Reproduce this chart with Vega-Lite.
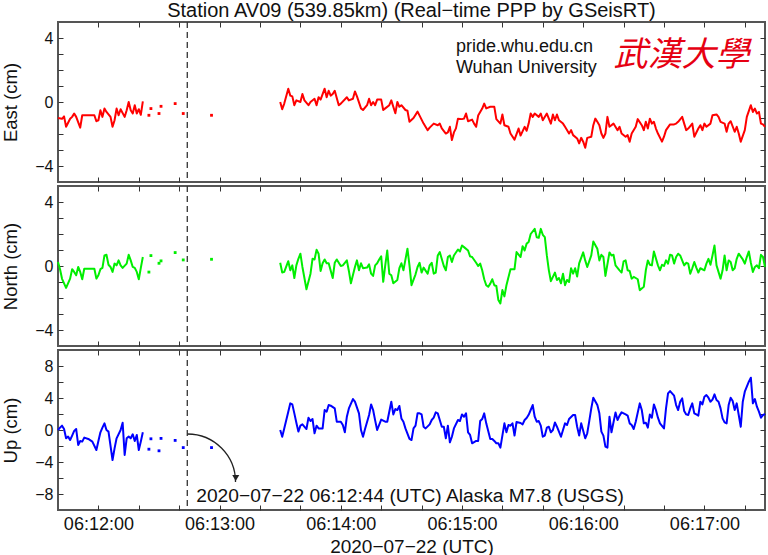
{
  "$schema": "https://vega.github.io/schema/vega-lite/v6.json",
  "padding": {"left": 0, "top": 0, "right": 2, "bottom": 0},
  "spacing": 0,
  "vconcat": [
    {
      "width": 707,
      "height": 160,
      "title": {"text": "Station AV09 (539.85km) (Real−time PPP by GSeisRT)", "anchor": "middle", "fontSize": 20, "fontWeight": "normal", "font": "Liberation Sans", "color": "#111", "offset": 0},
      "data": {"values": [
        {"t":"2020-07-22T06:11:40Z","v":-1.0,"seg":"pre"},{"t":"2020-07-22T06:11:42Z","v":-1.05,"seg":"pre"},{"t":"2020-07-22T06:11:43Z","v":-0.9,"seg":"pre"},{"t":"2020-07-22T06:11:44Z","v":-1.55,"seg":"pre"},
        {"t":"2020-07-22T06:11:46Z","v":-1.05,"seg":"pre"},{"t":"2020-07-22T06:11:47Z","v":-0.93,"seg":"pre"},{"t":"2020-07-22T06:11:48Z","v":-0.72,"seg":"pre"},{"t":"2020-07-22T06:11:49Z","v":-0.93,"seg":"pre"},
        {"t":"2020-07-22T06:11:51Z","v":-1.6,"seg":"pre"},{"t":"2020-07-22T06:11:52Z","v":-0.83,"seg":"pre"},{"t":"2020-07-22T06:11:58Z","v":-0.83,"seg":"pre"},{"t":"2020-07-22T06:11:59Z","v":-1.2,"seg":"pre"},
        {"t":"2020-07-22T06:12:00Z","v":-1.14,"seg":"pre"},{"t":"2020-07-22T06:12:01Z","v":-0.52,"seg":"pre"},{"t":"2020-07-22T06:12:02Z","v":-0.93,"seg":"pre"},{"t":"2020-07-22T06:12:03Z","v":-0.41,"seg":"pre"},
        {"t":"2020-07-22T06:12:04Z","v":-0.62,"seg":"pre"},{"t":"2020-07-22T06:12:06Z","v":-0.93,"seg":"pre"},{"t":"2020-07-22T06:12:07Z","v":-1.55,"seg":"pre"},{"t":"2020-07-22T06:12:08Z","v":-1.14,"seg":"pre"},
        {"t":"2020-07-22T06:12:09Z","v":-0.41,"seg":"pre"},{"t":"2020-07-22T06:12:10Z","v":-0.83,"seg":"pre"},{"t":"2020-07-22T06:12:11Z","v":-0.45,"seg":"pre"},{"t":"2020-07-22T06:12:13Z","v":-0.93,"seg":"pre"},
        {"t":"2020-07-22T06:12:14Z","v":-0.52,"seg":"pre"},{"t":"2020-07-22T06:12:15Z","v":0.0,"seg":"pre"},{"t":"2020-07-22T06:12:16Z","v":-0.52,"seg":"pre"},{"t":"2020-07-22T06:12:17Z","v":-0.72,"seg":"pre"},
        {"t":"2020-07-22T06:12:18Z","v":-0.2,"seg":"pre"},{"t":"2020-07-22T06:12:19Z","v":-0.72,"seg":"pre"},{"t":"2020-07-22T06:12:20Z","v":-0.45,"seg":"pre"},{"t":"2020-07-22T06:12:21Z","v":-0.8,"seg":"pre"},
        {"t":"2020-07-22T06:12:22Z","v":0.04,"seg":"pre"},
        {"t":"2020-07-22T06:12:25Z","v":-0.83,"seg":"lone"},{"t":"2020-07-22T06:12:26Z","v":-0.41,"seg":"lone"},{"t":"2020-07-22T06:12:30Z","v":-0.72,"seg":"lone"},{"t":"2020-07-22T06:12:31Z","v":-0.27,"seg":"lone"},
        {"t":"2020-07-22T06:12:38Z","v":-0.1,"seg":"lone"},{"t":"2020-07-22T06:12:42Z","v":-0.72,"seg":"lone"},{"t":"2020-07-22T06:12:56Z","v":-0.83,"seg":"lone"},
        {"t":"2020-07-22T06:13:30Z","v":0.0,"seg":"post"},{"t":"2020-07-22T06:13:31Z","v":-0.45,"seg":"post"},{"t":"2020-07-22T06:13:32Z","v":-0.1,"seg":"post"},{"t":"2020-07-22T06:13:34Z","v":0.83,"seg":"post"},
        {"t":"2020-07-22T06:13:35Z","v":0.4,"seg":"post"},{"t":"2020-07-22T06:13:36Z","v":0.35,"seg":"post"},{"t":"2020-07-22T06:13:37Z","v":-0.2,"seg":"post"},{"t":"2020-07-22T06:13:38Z","v":0.1,"seg":"post"},
        {"t":"2020-07-22T06:13:40Z","v":0.0,"seg":"post"},{"t":"2020-07-22T06:13:41Z","v":0.5,"seg":"post"},{"t":"2020-07-22T06:13:42Z","v":0.1,"seg":"post"},{"t":"2020-07-22T06:13:44Z","v":-0.2,"seg":"post"},
        {"t":"2020-07-22T06:13:45Z","v":0.0,"seg":"post"},{"t":"2020-07-22T06:13:47Z","v":0.2,"seg":"post"},{"t":"2020-07-22T06:13:48Z","v":-0.2,"seg":"post"},{"t":"2020-07-22T06:13:49Z","v":0.3,"seg":"post"},
        {"t":"2020-07-22T06:13:50Z","v":0.15,"seg":"post"},{"t":"2020-07-22T06:13:52Z","v":0.83,"seg":"post"},{"t":"2020-07-22T06:13:53Z","v":0.3,"seg":"post"},{"t":"2020-07-22T06:13:54Z","v":0.7,"seg":"post"},
        {"t":"2020-07-22T06:13:55Z","v":0.4,"seg":"post"},{"t":"2020-07-22T06:13:56Z","v":0.5,"seg":"post"},{"t":"2020-07-22T06:13:57Z","v":0.7,"seg":"post"},{"t":"2020-07-22T06:13:59Z","v":-0.2,"seg":"post"},
        {"t":"2020-07-22T06:14:00Z","v":-0.1,"seg":"post"},{"t":"2020-07-22T06:14:03Z","v":0.3,"seg":"post"},{"t":"2020-07-22T06:14:04Z","v":0.1,"seg":"post"},{"t":"2020-07-22T06:14:06Z","v":0.2,"seg":"post"},
        {"t":"2020-07-22T06:14:07Z","v":0.66,"seg":"post"},{"t":"2020-07-22T06:14:08Z","v":0.35,"seg":"post"},{"t":"2020-07-22T06:14:10Z","v":-0.4,"seg":"post"},{"t":"2020-07-22T06:14:11Z","v":-0.5,"seg":"post"},
        {"t":"2020-07-22T06:14:13Z","v":-0.2,"seg":"post"},{"t":"2020-07-22T06:14:14Z","v":0.2,"seg":"post"},{"t":"2020-07-22T06:14:15Z","v":-0.2,"seg":"post"},{"t":"2020-07-22T06:14:16Z","v":0.0,"seg":"post"},
        {"t":"2020-07-22T06:14:17Z","v":-0.2,"seg":"post"},{"t":"2020-07-22T06:14:18Z","v":0.15,"seg":"post"},{"t":"2020-07-22T06:14:20Z","v":0.15,"seg":"post"},{"t":"2020-07-22T06:14:21Z","v":-0.5,"seg":"post"},
        {"t":"2020-07-22T06:14:22Z","v":-0.4,"seg":"post"},{"t":"2020-07-22T06:14:24Z","v":-0.2,"seg":"post"},{"t":"2020-07-22T06:14:25Z","v":0.1,"seg":"post"},{"t":"2020-07-22T06:14:27Z","v":-0.7,"seg":"post"},
        {"t":"2020-07-22T06:14:28Z","v":0.0,"seg":"post"},{"t":"2020-07-22T06:14:29Z","v":-0.3,"seg":"post"},{"t":"2020-07-22T06:14:30Z","v":-0.2,"seg":"post"},{"t":"2020-07-22T06:14:32Z","v":-0.5,"seg":"post"},
        {"t":"2020-07-22T06:14:33Z","v":-0.55,"seg":"post"},{"t":"2020-07-22T06:14:34Z","v":-1.24,"seg":"post"},{"t":"2020-07-22T06:14:36Z","v":-1.0,"seg":"post"},{"t":"2020-07-22T06:14:38Z","v":-0.6,"seg":"post"},
        {"t":"2020-07-22T06:14:39Z","v":-0.85,"seg":"post"},{"t":"2020-07-22T06:14:41Z","v":-1.35,"seg":"post"},{"t":"2020-07-22T06:14:43Z","v":-1.76,"seg":"post"},{"t":"2020-07-22T06:14:44Z","v":-1.6,"seg":"post"},
        {"t":"2020-07-22T06:14:46Z","v":-1.35,"seg":"post"},{"t":"2020-07-22T06:14:48Z","v":-1.45,"seg":"post"},{"t":"2020-07-22T06:14:49Z","v":-1.35,"seg":"post"},{"t":"2020-07-22T06:14:50Z","v":-1.65,"seg":"post"},
        {"t":"2020-07-22T06:14:52Z","v":-1.97,"seg":"post"},{"t":"2020-07-22T06:14:53Z","v":-1.9,"seg":"post"},{"t":"2020-07-22T06:14:54Z","v":-1.55,"seg":"post"},{"t":"2020-07-22T06:14:55Z","v":-2.38,"seg":"post"},
        {"t":"2020-07-22T06:14:56Z","v":-1.9,"seg":"post"},{"t":"2020-07-22T06:14:57Z","v":-1.65,"seg":"post"},{"t":"2020-07-22T06:14:58Z","v":-1.04,"seg":"post"},{"t":"2020-07-22T06:15:00Z","v":-1.07,"seg":"post"},
        {"t":"2020-07-22T06:15:01Z","v":-1.04,"seg":"post"},{"t":"2020-07-22T06:15:02Z","v":-0.72,"seg":"post"},{"t":"2020-07-22T06:15:03Z","v":-1.2,"seg":"post"},{"t":"2020-07-22T06:15:05Z","v":-1.1,"seg":"post"},
        {"t":"2020-07-22T06:15:06Z","v":-1.35,"seg":"post"},{"t":"2020-07-22T06:15:07Z","v":-1.55,"seg":"post"},{"t":"2020-07-22T06:15:08Z","v":-0.85,"seg":"post"},{"t":"2020-07-22T06:15:10Z","v":-0.41,"seg":"post"},
        {"t":"2020-07-22T06:15:11Z","v":-0.1,"seg":"post"},{"t":"2020-07-22T06:15:12Z","v":-0.4,"seg":"post"},{"t":"2020-07-22T06:15:14Z","v":-0.3,"seg":"post"},{"t":"2020-07-22T06:15:16Z","v":-0.3,"seg":"post"},
        {"t":"2020-07-22T06:15:17Z","v":-1.07,"seg":"post"},{"t":"2020-07-22T06:15:19Z","v":-1.35,"seg":"post"},{"t":"2020-07-22T06:15:20Z","v":-0.78,"seg":"post"},{"t":"2020-07-22T06:15:21Z","v":-1.45,"seg":"post"},
        {"t":"2020-07-22T06:15:23Z","v":-1.55,"seg":"post"},{"t":"2020-07-22T06:15:24Z","v":-1.97,"seg":"post"},{"t":"2020-07-22T06:15:26Z","v":-2.35,"seg":"post"},{"t":"2020-07-22T06:15:28Z","v":-1.66,"seg":"post"},
        {"t":"2020-07-22T06:15:29Z","v":-2.1,"seg":"post"},{"t":"2020-07-22T06:15:31Z","v":-1.55,"seg":"post"},{"t":"2020-07-22T06:15:32Z","v":-1.8,"seg":"post"},{"t":"2020-07-22T06:15:33Z","v":-1.35,"seg":"post"},
        {"t":"2020-07-22T06:15:34Z","v":-0.72,"seg":"post"},{"t":"2020-07-22T06:15:35Z","v":-0.93,"seg":"post"},{"t":"2020-07-22T06:15:36Z","v":-0.72,"seg":"post"},{"t":"2020-07-22T06:15:38Z","v":-0.93,"seg":"post"},
        {"t":"2020-07-22T06:15:39Z","v":-0.72,"seg":"post"},{"t":"2020-07-22T06:15:40Z","v":-1.14,"seg":"post"},{"t":"2020-07-22T06:15:42Z","v":-0.72,"seg":"post"},{"t":"2020-07-22T06:15:43Z","v":-1.04,"seg":"post"},
        {"t":"2020-07-22T06:15:44Z","v":-1.35,"seg":"post"},{"t":"2020-07-22T06:15:45Z","v":-0.78,"seg":"post"},{"t":"2020-07-22T06:15:46Z","v":-1.14,"seg":"post"},{"t":"2020-07-22T06:15:47Z","v":-0.78,"seg":"post"},
        {"t":"2020-07-22T06:15:48Z","v":-1.14,"seg":"post"},{"t":"2020-07-22T06:15:50Z","v":-1.35,"seg":"post"},{"t":"2020-07-22T06:15:51Z","v":-1.55,"seg":"post"},{"t":"2020-07-22T06:15:53Z","v":-1.97,"seg":"post"},
        {"t":"2020-07-22T06:15:54Z","v":-1.76,"seg":"post"},{"t":"2020-07-22T06:15:55Z","v":-2.07,"seg":"post"},{"t":"2020-07-22T06:15:57Z","v":-2.28,"seg":"post"},{"t":"2020-07-22T06:15:58Z","v":-2.59,"seg":"post"},
        {"t":"2020-07-22T06:15:59Z","v":-2.24,"seg":"post"},{"t":"2020-07-22T06:16:00Z","v":-2.48,"seg":"post"},{"t":"2020-07-22T06:16:01Z","v":-2.86,"seg":"post"},{"t":"2020-07-22T06:16:02Z","v":-2.24,"seg":"post"},
        {"t":"2020-07-22T06:16:04Z","v":-2.17,"seg":"post"},{"t":"2020-07-22T06:16:05Z","v":-1.45,"seg":"post"},{"t":"2020-07-22T06:16:06Z","v":-1.04,"seg":"post"},{"t":"2020-07-22T06:16:07Z","v":-1.24,"seg":"post"},
        {"t":"2020-07-22T06:16:08Z","v":-1.45,"seg":"post"},{"t":"2020-07-22T06:16:09Z","v":-1.97,"seg":"post"},{"t":"2020-07-22T06:16:10Z","v":-2.24,"seg":"post"},{"t":"2020-07-22T06:16:11Z","v":-1.97,"seg":"post"},
        {"t":"2020-07-22T06:16:12Z","v":-0.93,"seg":"post"},{"t":"2020-07-22T06:16:13Z","v":-1.55,"seg":"post"},{"t":"2020-07-22T06:16:15Z","v":-1.35,"seg":"post"},{"t":"2020-07-22T06:16:17Z","v":-1.76,"seg":"post"},
        {"t":"2020-07-22T06:16:18Z","v":-1.55,"seg":"post"},{"t":"2020-07-22T06:16:19Z","v":-1.97,"seg":"post"},{"t":"2020-07-22T06:16:21Z","v":-2.17,"seg":"post"},{"t":"2020-07-22T06:16:22Z","v":-2.07,"seg":"post"},
        {"t":"2020-07-22T06:16:23Z","v":-2.48,"seg":"post"},{"t":"2020-07-22T06:16:24Z","v":-1.97,"seg":"post"},{"t":"2020-07-22T06:16:26Z","v":-1.55,"seg":"post"},{"t":"2020-07-22T06:16:27Z","v":-1.07,"seg":"post"},
        {"t":"2020-07-22T06:16:29Z","v":-1.45,"seg":"post"},{"t":"2020-07-22T06:16:30Z","v":-1.76,"seg":"post"},{"t":"2020-07-22T06:16:31Z","v":-1.24,"seg":"post"},{"t":"2020-07-22T06:16:32Z","v":-1.66,"seg":"post"},
        {"t":"2020-07-22T06:16:33Z","v":-1.04,"seg":"post"},{"t":"2020-07-22T06:16:34Z","v":-1.35,"seg":"post"},{"t":"2020-07-22T06:16:35Z","v":-1.24,"seg":"post"},{"t":"2020-07-22T06:16:36Z","v":-1.66,"seg":"post"},
        {"t":"2020-07-22T06:16:37Z","v":-1.97,"seg":"post"},{"t":"2020-07-22T06:16:39Z","v":-2.48,"seg":"post"},{"t":"2020-07-22T06:16:40Z","v":-2.17,"seg":"post"},{"t":"2020-07-22T06:16:41Z","v":-1.76,"seg":"post"},
        {"t":"2020-07-22T06:16:43Z","v":-1.4,"seg":"post"},{"t":"2020-07-22T06:16:45Z","v":-1.4,"seg":"post"},{"t":"2020-07-22T06:16:46Z","v":-1.35,"seg":"post"},{"t":"2020-07-22T06:16:47Z","v":-1.24,"seg":"post"},
        {"t":"2020-07-22T06:16:49Z","v":-0.93,"seg":"post"},{"t":"2020-07-22T06:16:50Z","v":-1.35,"seg":"post"},{"t":"2020-07-22T06:16:51Z","v":-1.76,"seg":"post"},{"t":"2020-07-22T06:16:52Z","v":-1.66,"seg":"post"},
        {"t":"2020-07-22T06:16:54Z","v":-1.35,"seg":"post"},{"t":"2020-07-22T06:16:55Z","v":-2.17,"seg":"post"},{"t":"2020-07-22T06:16:57Z","v":-1.66,"seg":"post"},{"t":"2020-07-22T06:16:58Z","v":-1.45,"seg":"post"},
        {"t":"2020-07-22T06:16:59Z","v":-1.76,"seg":"post"},{"t":"2020-07-22T06:17:00Z","v":-1.35,"seg":"post"},{"t":"2020-07-22T06:17:01Z","v":-1.55,"seg":"post"},{"t":"2020-07-22T06:17:03Z","v":-1.35,"seg":"post"},
        {"t":"2020-07-22T06:17:04Z","v":-0.83,"seg":"post"},{"t":"2020-07-22T06:17:06Z","v":-0.78,"seg":"post"},{"t":"2020-07-22T06:17:07Z","v":-0.93,"seg":"post"},{"t":"2020-07-22T06:17:08Z","v":-1.24,"seg":"post"},
        {"t":"2020-07-22T06:17:10Z","v":-1.35,"seg":"post"},{"t":"2020-07-22T06:17:11Z","v":-1.86,"seg":"post"},{"t":"2020-07-22T06:17:12Z","v":-1.35,"seg":"post"},{"t":"2020-07-22T06:17:13Z","v":-1.2,"seg":"post"},
        {"t":"2020-07-22T06:17:15Z","v":-1.86,"seg":"post"},{"t":"2020-07-22T06:17:16Z","v":-1.55,"seg":"post"},{"t":"2020-07-22T06:17:17Z","v":-1.97,"seg":"post"},{"t":"2020-07-22T06:17:18Z","v":-2.48,"seg":"post"},
        {"t":"2020-07-22T06:17:20Z","v":-1.76,"seg":"post"},{"t":"2020-07-22T06:17:21Z","v":-0.93,"seg":"post"},{"t":"2020-07-22T06:17:23Z","v":-0.2,"seg":"post"},{"t":"2020-07-22T06:17:24Z","v":-0.62,"seg":"post"},
        {"t":"2020-07-22T06:17:25Z","v":-0.41,"seg":"post"},{"t":"2020-07-22T06:17:26Z","v":-0.72,"seg":"post"},{"t":"2020-07-22T06:17:27Z","v":-0.62,"seg":"post"},{"t":"2020-07-22T06:17:28Z","v":-1.35,"seg":"post"},
        {"t":"2020-07-22T06:17:29Z","v":-1.4,"seg":"post"},{"t":"2020-07-22T06:17:30Z","v":-1.55,"seg":"post"}
      ]},
      "resolve": {"axis": {"x": "independent", "y": "independent"}},
      "layer": [
        {
          "transform": [{"filter": "datum.seg != 'lone'"}],
          "mark": {"type": "line", "color": "#ff0000", "strokeWidth": 2, "strokeJoin": "round"},
          "encoding": {
            "x": {"field": "t", "type": "temporal",
                  "scale": {"type": "utc", "domain": [{"year": 2020, "month": 7, "date": 22, "hours": 6, "minutes": 11, "seconds": 40, "utc": true}, {"year": 2020, "month": 7, "date": 22, "hours": 6, "minutes": 17, "seconds": 30, "utc": true}]},
                  "axis": {"orient": "bottom", "labels": false, "title": null,
                           "values": [{"year":2020,"month":7,"date":22,"hours":6,"minutes":12,"seconds":0,"utc":true},{"year":2020,"month":7,"date":22,"hours":6,"minutes":12,"seconds":20,"utc":true},{"year":2020,"month":7,"date":22,"hours":6,"minutes":12,"seconds":40,"utc":true},{"year":2020,"month":7,"date":22,"hours":6,"minutes":13,"seconds":0,"utc":true},{"year":2020,"month":7,"date":22,"hours":6,"minutes":13,"seconds":20,"utc":true},{"year":2020,"month":7,"date":22,"hours":6,"minutes":13,"seconds":40,"utc":true},{"year":2020,"month":7,"date":22,"hours":6,"minutes":14,"seconds":0,"utc":true},{"year":2020,"month":7,"date":22,"hours":6,"minutes":14,"seconds":20,"utc":true},{"year":2020,"month":7,"date":22,"hours":6,"minutes":14,"seconds":40,"utc":true},{"year":2020,"month":7,"date":22,"hours":6,"minutes":15,"seconds":0,"utc":true},{"year":2020,"month":7,"date":22,"hours":6,"minutes":15,"seconds":20,"utc":true},{"year":2020,"month":7,"date":22,"hours":6,"minutes":15,"seconds":40,"utc":true},{"year":2020,"month":7,"date":22,"hours":6,"minutes":16,"seconds":0,"utc":true},{"year":2020,"month":7,"date":22,"hours":6,"minutes":16,"seconds":20,"utc":true},{"year":2020,"month":7,"date":22,"hours":6,"minutes":16,"seconds":40,"utc":true},{"year":2020,"month":7,"date":22,"hours":6,"minutes":17,"seconds":0,"utc":true},{"year":2020,"month":7,"date":22,"hours":6,"minutes":17,"seconds":20,"utc":true}]}},
            "y": {"field": "v", "type": "quantitative", "scale": {"domain": [-5, 5], "nice": false, "zero": false},
                  "axis": {"orient": "left", "title": "East (cm)", "values": [-4, -3, -2, -1, 0, 1, 2, 3, 4], "labelExpr": "datum.value % 4 === 0 ? datum.label : ''"}},
            "detail": {"field": "seg", "type": "nominal"}
          }
        },
        {
          "transform": [{"filter": "datum.seg == 'lone'"}],
          "mark": {"type": "square", "color": "#ff0000", "size": 8, "opacity": 1},
          "encoding": {
            "x": {"field": "t", "type": "temporal",
                  "axis": {"orient": "top", "labels": false, "title": null,
                           "values": [{"year":2020,"month":7,"date":22,"hours":6,"minutes":12,"seconds":0,"utc":true},{"year":2020,"month":7,"date":22,"hours":6,"minutes":12,"seconds":20,"utc":true},{"year":2020,"month":7,"date":22,"hours":6,"minutes":12,"seconds":40,"utc":true},{"year":2020,"month":7,"date":22,"hours":6,"minutes":13,"seconds":0,"utc":true},{"year":2020,"month":7,"date":22,"hours":6,"minutes":13,"seconds":20,"utc":true},{"year":2020,"month":7,"date":22,"hours":6,"minutes":13,"seconds":40,"utc":true},{"year":2020,"month":7,"date":22,"hours":6,"minutes":14,"seconds":0,"utc":true},{"year":2020,"month":7,"date":22,"hours":6,"minutes":14,"seconds":20,"utc":true},{"year":2020,"month":7,"date":22,"hours":6,"minutes":14,"seconds":40,"utc":true},{"year":2020,"month":7,"date":22,"hours":6,"minutes":15,"seconds":0,"utc":true},{"year":2020,"month":7,"date":22,"hours":6,"minutes":15,"seconds":20,"utc":true},{"year":2020,"month":7,"date":22,"hours":6,"minutes":15,"seconds":40,"utc":true},{"year":2020,"month":7,"date":22,"hours":6,"minutes":16,"seconds":0,"utc":true},{"year":2020,"month":7,"date":22,"hours":6,"minutes":16,"seconds":20,"utc":true},{"year":2020,"month":7,"date":22,"hours":6,"minutes":16,"seconds":40,"utc":true},{"year":2020,"month":7,"date":22,"hours":6,"minutes":17,"seconds":0,"utc":true},{"year":2020,"month":7,"date":22,"hours":6,"minutes":17,"seconds":20,"utc":true}]}},
            "y": {"field": "v", "type": "quantitative", "axis": {"orient": "right", "labels": false, "title": null, "values": [-4, -3, -2, -1, 0, 1, 2, 3, 4]}}
          }
        },
        {
          "data": {"values": [{"t": "2020-07-22T06:12:44Z"}]},
          "mark": {"type": "rule", "color": "#333", "strokeWidth": 1.3, "strokeDash": [6, 4]},
          "encoding": {"x": {"field": "t", "type": "temporal", "axis": null}}
        },
        {
          "data": {"values": [{"line": "pride.whu.edu.cn"}]},
          "mark": {"type": "text", "align": "left", "baseline": "alphabetic", "font": "Liberation Sans", "fontSize": 18, "color": "#111"},
          "encoding": {
            "x": {"datum": {"year": 2020, "month": 7, "date": 22, "hours": 6, "minutes": 14, "seconds": 57, "utc": true}, "type": "temporal", "axis": null},
            "y": {"datum": 3.1, "type": "quantitative", "axis": null},
            "text": {"field": "line", "type": "nominal"}
          }
        },
        {
          "data": {"values": [{"line": "Wuhan University"}]},
          "mark": {"type": "text", "align": "left", "baseline": "alphabetic", "font": "Liberation Sans", "fontSize": 18, "color": "#111"},
          "encoding": {
            "x": {"datum": {"year": 2020, "month": 7, "date": 22, "hours": 6, "minutes": 14, "seconds": 57, "utc": true}, "type": "temporal", "axis": null},
            "y": {"datum": 1.8, "type": "quantitative", "axis": null},
            "text": {"field": "line", "type": "nominal"}
          }
        },
        {
          "data": {"values": [{"name": "武漢大學"}]},
          "mark": {"type": "text", "align": "left", "baseline": "middle", "font": "Noto Sans CJK TC", "fontSize": 34, "fontStyle": "italic", "color": "#e60012"},
          "encoding": {
            "x": {"datum": {"year": 2020, "month": 7, "date": 22, "hours": 6, "minutes": 16, "seconds": 15, "utc": true}, "type": "temporal", "axis": null},
            "y": {"datum": 2.85, "type": "quantitative", "axis": null},
            "text": {"field": "name", "type": "nominal"}
          }
        }
      ]
    },
    {
      "width": 707,
      "height": 160,
      "data": {"values": [
        {"t":"2020-07-22T06:11:40Z","v":0.25,"seg":"pre"},{"t":"2020-07-22T06:11:41Z","v":-0.2,"seg":"pre"},{"t":"2020-07-22T06:11:42Z","v":-0.8,"seg":"pre"},{"t":"2020-07-22T06:11:44Z","v":-1.37,"seg":"pre"},
        {"t":"2020-07-22T06:11:46Z","v":-0.79,"seg":"pre"},{"t":"2020-07-22T06:11:47Z","v":-0.2,"seg":"pre"},{"t":"2020-07-22T06:11:48Z","v":-0.37,"seg":"pre"},{"t":"2020-07-22T06:11:49Z","v":-0.58,"seg":"pre"},
        {"t":"2020-07-22T06:11:50Z","v":-0.06,"seg":"pre"},{"t":"2020-07-22T06:11:51Z","v":-0.37,"seg":"pre"},{"t":"2020-07-22T06:11:52Z","v":-0.83,"seg":"pre"},{"t":"2020-07-22T06:11:53Z","v":-0.17,"seg":"pre"},
        {"t":"2020-07-22T06:11:58Z","v":-0.17,"seg":"pre"},{"t":"2020-07-22T06:11:59Z","v":-0.79,"seg":"pre"},{"t":"2020-07-22T06:12:00Z","v":-0.58,"seg":"pre"},{"t":"2020-07-22T06:12:01Z","v":-0.2,"seg":"pre"},
        {"t":"2020-07-22T06:12:02Z","v":-0.12,"seg":"pre"},{"t":"2020-07-22T06:12:03Z","v":0.66,"seg":"pre"},{"t":"2020-07-22T06:12:04Z","v":0.7,"seg":"pre"},{"t":"2020-07-22T06:12:05Z","v":0.08,"seg":"pre"},
        {"t":"2020-07-22T06:12:06Z","v":-0.06,"seg":"pre"},{"t":"2020-07-22T06:12:07Z","v":-0.37,"seg":"pre"},{"t":"2020-07-22T06:12:08Z","v":0.15,"seg":"pre"},{"t":"2020-07-22T06:12:09Z","v":0.04,"seg":"pre"},
        {"t":"2020-07-22T06:12:10Z","v":0.35,"seg":"pre"},{"t":"2020-07-22T06:12:11Z","v":0.04,"seg":"pre"},{"t":"2020-07-22T06:12:12Z","v":-0.12,"seg":"pre"},{"t":"2020-07-22T06:12:14Z","v":0.15,"seg":"pre"},
        {"t":"2020-07-22T06:12:15Z","v":0.7,"seg":"pre"},{"t":"2020-07-22T06:12:16Z","v":0.35,"seg":"pre"},{"t":"2020-07-22T06:12:17Z","v":-0.06,"seg":"pre"},{"t":"2020-07-22T06:12:18Z","v":-0.12,"seg":"pre"},
        {"t":"2020-07-22T06:12:19Z","v":-0.37,"seg":"pre"},{"t":"2020-07-22T06:12:20Z","v":-0.83,"seg":"pre"},{"t":"2020-07-22T06:12:21Z","v":-0.12,"seg":"pre"},{"t":"2020-07-22T06:12:22Z","v":0.56,"seg":"pre"},
        {"t":"2020-07-22T06:12:25Z","v":-0.38,"seg":"lone"},{"t":"2020-07-22T06:12:26Z","v":0.65,"seg":"lone"},{"t":"2020-07-22T06:12:30Z","v":0.17,"seg":"lone"},{"t":"2020-07-22T06:12:31Z","v":0.32,"seg":"lone"},
        {"t":"2020-07-22T06:12:38Z","v":0.84,"seg":"lone"},{"t":"2020-07-22T06:12:42Z","v":0.38,"seg":"lone"},{"t":"2020-07-22T06:12:56Z","v":0.42,"seg":"lone"},
        {"t":"2020-07-22T06:13:30Z","v":0.2,"seg":"post"},{"t":"2020-07-22T06:13:31Z","v":-0.41,"seg":"post"},{"t":"2020-07-22T06:13:32Z","v":-0.37,"seg":"post"},{"t":"2020-07-22T06:13:34Z","v":0.3,"seg":"post"},
        {"t":"2020-07-22T06:13:35Z","v":-0.27,"seg":"post"},{"t":"2020-07-22T06:13:36Z","v":0.04,"seg":"post"},{"t":"2020-07-22T06:13:37Z","v":-0.75,"seg":"post"},{"t":"2020-07-22T06:13:38Z","v":0.04,"seg":"post"},
        {"t":"2020-07-22T06:13:39Z","v":0.45,"seg":"post"},{"t":"2020-07-22T06:13:40Z","v":0.77,"seg":"post"},{"t":"2020-07-22T06:13:41Z","v":-0.06,"seg":"post"},{"t":"2020-07-22T06:13:43Z","v":-1.45,"seg":"post"},
        {"t":"2020-07-22T06:13:45Z","v":-0.48,"seg":"post"},{"t":"2020-07-22T06:13:46Z","v":0.45,"seg":"post"},{"t":"2020-07-22T06:13:47Z","v":0.41,"seg":"post"},{"t":"2020-07-22T06:13:48Z","v":1.01,"seg":"post"},
        {"t":"2020-07-22T06:13:49Z","v":0.77,"seg":"post"},{"t":"2020-07-22T06:13:50Z","v":-0.31,"seg":"post"},{"t":"2020-07-22T06:13:51Z","v":0.17,"seg":"post"},{"t":"2020-07-22T06:13:52Z","v":0.41,"seg":"post"},
        {"t":"2020-07-22T06:13:53Z","v":0.17,"seg":"post"},{"t":"2020-07-22T06:13:54Z","v":0.17,"seg":"post"},{"t":"2020-07-22T06:13:56Z","v":-0.75,"seg":"post"},{"t":"2020-07-22T06:13:57Z","v":0.2,"seg":"post"},
        {"t":"2020-07-22T06:13:58Z","v":0.41,"seg":"post"},{"t":"2020-07-22T06:14:00Z","v":0.0,"seg":"post"},{"t":"2020-07-22T06:14:01Z","v":0.04,"seg":"post"},{"t":"2020-07-22T06:14:03Z","v":0.35,"seg":"post"},
        {"t":"2020-07-22T06:14:04Z","v":-0.31,"seg":"post"},{"t":"2020-07-22T06:14:05Z","v":-1.08,"seg":"post"},{"t":"2020-07-22T06:14:07Z","v":-0.06,"seg":"post"},{"t":"2020-07-22T06:14:08Z","v":0.35,"seg":"post"},
        {"t":"2020-07-22T06:14:09Z","v":-0.27,"seg":"post"},{"t":"2020-07-22T06:14:10Z","v":0.17,"seg":"post"},{"t":"2020-07-22T06:14:11Z","v":-0.14,"seg":"post"},{"t":"2020-07-22T06:14:13Z","v":-0.1,"seg":"post"},
        {"t":"2020-07-22T06:14:14Z","v":0.1,"seg":"post"},{"t":"2020-07-22T06:14:15Z","v":-0.48,"seg":"post"},{"t":"2020-07-22T06:14:16Z","v":-0.62,"seg":"post"},{"t":"2020-07-22T06:14:17Z","v":0.04,"seg":"post"},
        {"t":"2020-07-22T06:14:18Z","v":0.17,"seg":"post"},{"t":"2020-07-22T06:14:19Z","v":0.4,"seg":"post"},{"t":"2020-07-22T06:14:20Z","v":0.6,"seg":"post"},{"t":"2020-07-22T06:14:21Z","v":-0.99,"seg":"post"},
        {"t":"2020-07-22T06:14:22Z","v":0.04,"seg":"post"},{"t":"2020-07-22T06:14:23Z","v":0.97,"seg":"post"},{"t":"2020-07-22T06:14:24Z","v":-0.48,"seg":"post"},{"t":"2020-07-22T06:14:25Z","v":-0.58,"seg":"post"},
        {"t":"2020-07-22T06:14:26Z","v":-1.08,"seg":"post"},{"t":"2020-07-22T06:14:28Z","v":-0.87,"seg":"post"},{"t":"2020-07-22T06:14:29Z","v":-0.14,"seg":"post"},{"t":"2020-07-22T06:14:30Z","v":0.17,"seg":"post"},
        {"t":"2020-07-22T06:14:31Z","v":-0.27,"seg":"post"},{"t":"2020-07-22T06:14:33Z","v":1.08,"seg":"post"},{"t":"2020-07-22T06:14:34Z","v":0.04,"seg":"post"},{"t":"2020-07-22T06:14:35Z","v":-1.2,"seg":"post"},
        {"t":"2020-07-22T06:14:37Z","v":-0.52,"seg":"post"},{"t":"2020-07-22T06:14:38Z","v":-0.06,"seg":"post"},{"t":"2020-07-22T06:14:39Z","v":0.2,"seg":"post"},{"t":"2020-07-22T06:14:40Z","v":-0.41,"seg":"post"},
        {"t":"2020-07-22T06:14:41Z","v":-0.1,"seg":"post"},{"t":"2020-07-22T06:14:43Z","v":-0.48,"seg":"post"},{"t":"2020-07-22T06:14:44Z","v":0.04,"seg":"post"},{"t":"2020-07-22T06:14:45Z","v":0.2,"seg":"post"},
        {"t":"2020-07-22T06:14:46Z","v":-0.48,"seg":"post"},{"t":"2020-07-22T06:14:47Z","v":-0.41,"seg":"post"},{"t":"2020-07-22T06:14:48Z","v":0.66,"seg":"post"},{"t":"2020-07-22T06:14:49Z","v":0.87,"seg":"post"},
        {"t":"2020-07-22T06:14:51Z","v":0.0,"seg":"post"},{"t":"2020-07-22T06:14:52Z","v":-0.27,"seg":"post"},{"t":"2020-07-22T06:14:53Z","v":0.56,"seg":"post"},{"t":"2020-07-22T06:14:54Z","v":0.66,"seg":"post"},
        {"t":"2020-07-22T06:14:55Z","v":0.25,"seg":"post"},{"t":"2020-07-22T06:14:56Z","v":0.66,"seg":"post"},{"t":"2020-07-22T06:14:58Z","v":1.03,"seg":"post"},{"t":"2020-07-22T06:14:59Z","v":0.91,"seg":"post"},
        {"t":"2020-07-22T06:15:00Z","v":1.28,"seg":"post"},{"t":"2020-07-22T06:15:01Z","v":1.18,"seg":"post"},{"t":"2020-07-22T06:15:03Z","v":0.97,"seg":"post"},{"t":"2020-07-22T06:15:04Z","v":0.6,"seg":"post"},
        {"t":"2020-07-22T06:15:05Z","v":0.56,"seg":"post"},{"t":"2020-07-22T06:15:07Z","v":0.2,"seg":"post"},{"t":"2020-07-22T06:15:08Z","v":0.0,"seg":"post"},{"t":"2020-07-22T06:15:09Z","v":0.15,"seg":"post"},
        {"t":"2020-07-22T06:15:10Z","v":-0.27,"seg":"post"},{"t":"2020-07-22T06:15:11Z","v":-0.83,"seg":"post"},{"t":"2020-07-22T06:15:12Z","v":-1.2,"seg":"post"},{"t":"2020-07-22T06:15:13Z","v":-1.3,"seg":"post"},
        {"t":"2020-07-22T06:15:14Z","v":-1.1,"seg":"post"},{"t":"2020-07-22T06:15:15Z","v":-0.83,"seg":"post"},{"t":"2020-07-22T06:15:16Z","v":-1.2,"seg":"post"},{"t":"2020-07-22T06:15:17Z","v":-1.25,"seg":"post"},
        {"t":"2020-07-22T06:15:18Z","v":-2.13,"seg":"post"},{"t":"2020-07-22T06:15:19Z","v":-2.34,"seg":"post"},{"t":"2020-07-22T06:15:20Z","v":-1.5,"seg":"post"},{"t":"2020-07-22T06:15:21Z","v":-1.9,"seg":"post"},
        {"t":"2020-07-22T06:15:22Z","v":-1.2,"seg":"post"},{"t":"2020-07-22T06:15:24Z","v":-0.2,"seg":"post"},{"t":"2020-07-22T06:15:26Z","v":-0.2,"seg":"post"},{"t":"2020-07-22T06:15:27Z","v":0.87,"seg":"post"},
        {"t":"2020-07-22T06:15:29Z","v":0.56,"seg":"post"},{"t":"2020-07-22T06:15:30Z","v":1.24,"seg":"post"},{"t":"2020-07-22T06:15:31Z","v":0.97,"seg":"post"},{"t":"2020-07-22T06:15:32Z","v":1.4,"seg":"post"},
        {"t":"2020-07-22T06:15:33Z","v":1.5,"seg":"post"},{"t":"2020-07-22T06:15:34Z","v":2.0,"seg":"post"},{"t":"2020-07-22T06:15:36Z","v":2.32,"seg":"post"},{"t":"2020-07-22T06:15:37Z","v":1.8,"seg":"post"},
        {"t":"2020-07-22T06:15:38Z","v":1.76,"seg":"post"},{"t":"2020-07-22T06:15:39Z","v":2.32,"seg":"post"},{"t":"2020-07-22T06:15:40Z","v":1.95,"seg":"post"},{"t":"2020-07-22T06:15:41Z","v":1.8,"seg":"post"},
        {"t":"2020-07-22T06:15:42Z","v":0.66,"seg":"post"},{"t":"2020-07-22T06:15:43Z","v":-0.27,"seg":"post"},{"t":"2020-07-22T06:15:44Z","v":-0.95,"seg":"post"},{"t":"2020-07-22T06:15:46Z","v":-0.41,"seg":"post"},
        {"t":"2020-07-22T06:15:47Z","v":-0.87,"seg":"post"},{"t":"2020-07-22T06:15:48Z","v":-0.75,"seg":"post"},{"t":"2020-07-22T06:15:49Z","v":-1.08,"seg":"post"},{"t":"2020-07-22T06:15:50Z","v":-0.48,"seg":"post"},
        {"t":"2020-07-22T06:15:51Z","v":-1.2,"seg":"post"},{"t":"2020-07-22T06:15:52Z","v":-0.87,"seg":"post"},{"t":"2020-07-22T06:15:53Z","v":-1.0,"seg":"post"},{"t":"2020-07-22T06:15:54Z","v":-0.14,"seg":"post"},
        {"t":"2020-07-22T06:15:55Z","v":-0.48,"seg":"post"},{"t":"2020-07-22T06:15:56Z","v":-0.14,"seg":"post"},{"t":"2020-07-22T06:15:57Z","v":-0.66,"seg":"post"},{"t":"2020-07-22T06:15:58Z","v":0.17,"seg":"post"},
        {"t":"2020-07-22T06:16:00Z","v":0.85,"seg":"post"},{"t":"2020-07-22T06:16:01Z","v":0.35,"seg":"post"},{"t":"2020-07-22T06:16:02Z","v":-0.06,"seg":"post"},{"t":"2020-07-22T06:16:04Z","v":0.66,"seg":"post"},
        {"t":"2020-07-22T06:16:05Z","v":1.53,"seg":"post"},{"t":"2020-07-22T06:16:07Z","v":1.08,"seg":"post"},{"t":"2020-07-22T06:16:08Z","v":0.35,"seg":"post"},{"t":"2020-07-22T06:16:09Z","v":0.7,"seg":"post"},
        {"t":"2020-07-22T06:16:10Z","v":0.56,"seg":"post"},{"t":"2020-07-22T06:16:11Z","v":-0.62,"seg":"post"},{"t":"2020-07-22T06:16:13Z","v":0.85,"seg":"post"},{"t":"2020-07-22T06:16:14Z","v":0.66,"seg":"post"},
        {"t":"2020-07-22T06:16:15Z","v":0.7,"seg":"post"},{"t":"2020-07-22T06:16:16Z","v":0.04,"seg":"post"},{"t":"2020-07-22T06:16:18Z","v":-0.27,"seg":"post"},{"t":"2020-07-22T06:16:19Z","v":-0.41,"seg":"post"},
        {"t":"2020-07-22T06:16:20Z","v":0.29,"seg":"post"},{"t":"2020-07-22T06:16:21Z","v":0.35,"seg":"post"},{"t":"2020-07-22T06:16:22Z","v":-0.27,"seg":"post"},{"t":"2020-07-22T06:16:23Z","v":-0.31,"seg":"post"},
        {"t":"2020-07-22T06:16:24Z","v":-0.79,"seg":"post"},{"t":"2020-07-22T06:16:25Z","v":-0.68,"seg":"post"},{"t":"2020-07-22T06:16:26Z","v":-0.75,"seg":"post"},{"t":"2020-07-22T06:16:27Z","v":-0.83,"seg":"post"},
        {"t":"2020-07-22T06:16:28Z","v":-1.51,"seg":"post"},{"t":"2020-07-22T06:16:30Z","v":-1.3,"seg":"post"},{"t":"2020-07-22T06:16:31Z","v":-0.27,"seg":"post"},{"t":"2020-07-22T06:16:32Z","v":0.35,"seg":"post"},
        {"t":"2020-07-22T06:16:33Z","v":0.08,"seg":"post"},{"t":"2020-07-22T06:16:34Z","v":0.04,"seg":"post"},{"t":"2020-07-22T06:16:35Z","v":0.91,"seg":"post"},{"t":"2020-07-22T06:16:37Z","v":0.04,"seg":"post"},
        {"t":"2020-07-22T06:16:38Z","v":-0.27,"seg":"post"},{"t":"2020-07-22T06:16:39Z","v":0.08,"seg":"post"},{"t":"2020-07-22T06:16:40Z","v":0.0,"seg":"post"},{"t":"2020-07-22T06:16:41Z","v":0.35,"seg":"post"},
        {"t":"2020-07-22T06:16:42Z","v":0.15,"seg":"post"},{"t":"2020-07-22T06:16:43Z","v":0.7,"seg":"post"},{"t":"2020-07-22T06:16:44Z","v":0.66,"seg":"post"},{"t":"2020-07-22T06:16:45Z","v":0.15,"seg":"post"},
        {"t":"2020-07-22T06:16:46Z","v":0.56,"seg":"post"},{"t":"2020-07-22T06:16:47Z","v":0.77,"seg":"post"},{"t":"2020-07-22T06:16:48Z","v":0.66,"seg":"post"},{"t":"2020-07-22T06:16:50Z","v":0.04,"seg":"post"},
        {"t":"2020-07-22T06:16:51Z","v":0.2,"seg":"post"},{"t":"2020-07-22T06:16:52Z","v":0.15,"seg":"post"},{"t":"2020-07-22T06:16:53Z","v":-0.48,"seg":"post"},{"t":"2020-07-22T06:16:54Z","v":-0.14,"seg":"post"},
        {"t":"2020-07-22T06:16:55Z","v":0.25,"seg":"post"},{"t":"2020-07-22T06:16:56Z","v":-0.1,"seg":"post"},{"t":"2020-07-22T06:16:57Z","v":-0.41,"seg":"post"},{"t":"2020-07-22T06:16:58Z","v":-0.14,"seg":"post"},
        {"t":"2020-07-22T06:17:00Z","v":-0.27,"seg":"post"},{"t":"2020-07-22T06:17:01Z","v":0.15,"seg":"post"},{"t":"2020-07-22T06:17:02Z","v":0.45,"seg":"post"},{"t":"2020-07-22T06:17:03Z","v":0.08,"seg":"post"},
        {"t":"2020-07-22T06:17:04Z","v":0.66,"seg":"post"},{"t":"2020-07-22T06:17:05Z","v":1.28,"seg":"post"},{"t":"2020-07-22T06:17:06Z","v":0.04,"seg":"post"},{"t":"2020-07-22T06:17:08Z","v":-0.79,"seg":"post"},
        {"t":"2020-07-22T06:17:09Z","v":-0.27,"seg":"post"},{"t":"2020-07-22T06:17:10Z","v":0.66,"seg":"post"},{"t":"2020-07-22T06:17:11Z","v":-0.27,"seg":"post"},{"t":"2020-07-22T06:17:12Z","v":0.35,"seg":"post"},
        {"t":"2020-07-22T06:17:13Z","v":0.25,"seg":"post"},{"t":"2020-07-22T06:17:14Z","v":-0.27,"seg":"post"},{"t":"2020-07-22T06:17:15Z","v":-0.14,"seg":"post"},{"t":"2020-07-22T06:17:16Z","v":0.45,"seg":"post"},
        {"t":"2020-07-22T06:17:17Z","v":0.77,"seg":"post"},{"t":"2020-07-22T06:17:19Z","v":0.41,"seg":"post"},{"t":"2020-07-22T06:17:20Z","v":0.15,"seg":"post"},{"t":"2020-07-22T06:17:21Z","v":0.56,"seg":"post"},
        {"t":"2020-07-22T06:17:22Z","v":0.91,"seg":"post"},{"t":"2020-07-22T06:17:23Z","v":0.2,"seg":"post"},{"t":"2020-07-22T06:17:24Z","v":-0.37,"seg":"post"},{"t":"2020-07-22T06:17:25Z","v":-0.06,"seg":"post"},
        {"t":"2020-07-22T06:17:26Z","v":0.04,"seg":"post"},{"t":"2020-07-22T06:17:27Z","v":-0.14,"seg":"post"},{"t":"2020-07-22T06:17:28Z","v":0.7,"seg":"post"},{"t":"2020-07-22T06:17:29Z","v":0.56,"seg":"post"},
        {"t":"2020-07-22T06:17:30Z","v":-0.06,"seg":"post"}
      ]},
      "resolve": {"axis": {"x": "independent", "y": "independent"}},
      "layer": [
        {
          "transform": [{"filter": "datum.seg != 'lone'"}],
          "mark": {"type": "line", "color": "#00ee00", "strokeWidth": 2, "strokeJoin": "round"},
          "encoding": {
            "x": {"field": "t", "type": "temporal",
                  "scale": {"type": "utc", "domain": [{"year": 2020, "month": 7, "date": 22, "hours": 6, "minutes": 11, "seconds": 40, "utc": true}, {"year": 2020, "month": 7, "date": 22, "hours": 6, "minutes": 17, "seconds": 30, "utc": true}]},
                  "axis": {"orient": "bottom", "labels": false, "title": null,
                           "values": [{"year":2020,"month":7,"date":22,"hours":6,"minutes":12,"seconds":0,"utc":true},{"year":2020,"month":7,"date":22,"hours":6,"minutes":12,"seconds":20,"utc":true},{"year":2020,"month":7,"date":22,"hours":6,"minutes":12,"seconds":40,"utc":true},{"year":2020,"month":7,"date":22,"hours":6,"minutes":13,"seconds":0,"utc":true},{"year":2020,"month":7,"date":22,"hours":6,"minutes":13,"seconds":20,"utc":true},{"year":2020,"month":7,"date":22,"hours":6,"minutes":13,"seconds":40,"utc":true},{"year":2020,"month":7,"date":22,"hours":6,"minutes":14,"seconds":0,"utc":true},{"year":2020,"month":7,"date":22,"hours":6,"minutes":14,"seconds":20,"utc":true},{"year":2020,"month":7,"date":22,"hours":6,"minutes":14,"seconds":40,"utc":true},{"year":2020,"month":7,"date":22,"hours":6,"minutes":15,"seconds":0,"utc":true},{"year":2020,"month":7,"date":22,"hours":6,"minutes":15,"seconds":20,"utc":true},{"year":2020,"month":7,"date":22,"hours":6,"minutes":15,"seconds":40,"utc":true},{"year":2020,"month":7,"date":22,"hours":6,"minutes":16,"seconds":0,"utc":true},{"year":2020,"month":7,"date":22,"hours":6,"minutes":16,"seconds":20,"utc":true},{"year":2020,"month":7,"date":22,"hours":6,"minutes":16,"seconds":40,"utc":true},{"year":2020,"month":7,"date":22,"hours":6,"minutes":17,"seconds":0,"utc":true},{"year":2020,"month":7,"date":22,"hours":6,"minutes":17,"seconds":20,"utc":true}]}},
            "y": {"field": "v", "type": "quantitative", "scale": {"domain": [-5, 5], "nice": false, "zero": false},
                  "axis": {"orient": "left", "title": "North (cm)", "values": [-4, -3, -2, -1, 0, 1, 2, 3, 4], "labelExpr": "datum.value % 4 === 0 ? datum.label : ''"}},
            "detail": {"field": "seg", "type": "nominal"}
          }
        },
        {
          "transform": [{"filter": "datum.seg == 'lone'"}],
          "mark": {"type": "square", "color": "#00ee00", "size": 8, "opacity": 1},
          "encoding": {
            "x": {"field": "t", "type": "temporal",
                  "axis": {"orient": "top", "labels": false, "title": null,
                           "values": [{"year":2020,"month":7,"date":22,"hours":6,"minutes":12,"seconds":0,"utc":true},{"year":2020,"month":7,"date":22,"hours":6,"minutes":12,"seconds":20,"utc":true},{"year":2020,"month":7,"date":22,"hours":6,"minutes":12,"seconds":40,"utc":true},{"year":2020,"month":7,"date":22,"hours":6,"minutes":13,"seconds":0,"utc":true},{"year":2020,"month":7,"date":22,"hours":6,"minutes":13,"seconds":20,"utc":true},{"year":2020,"month":7,"date":22,"hours":6,"minutes":13,"seconds":40,"utc":true},{"year":2020,"month":7,"date":22,"hours":6,"minutes":14,"seconds":0,"utc":true},{"year":2020,"month":7,"date":22,"hours":6,"minutes":14,"seconds":20,"utc":true},{"year":2020,"month":7,"date":22,"hours":6,"minutes":14,"seconds":40,"utc":true},{"year":2020,"month":7,"date":22,"hours":6,"minutes":15,"seconds":0,"utc":true},{"year":2020,"month":7,"date":22,"hours":6,"minutes":15,"seconds":20,"utc":true},{"year":2020,"month":7,"date":22,"hours":6,"minutes":15,"seconds":40,"utc":true},{"year":2020,"month":7,"date":22,"hours":6,"minutes":16,"seconds":0,"utc":true},{"year":2020,"month":7,"date":22,"hours":6,"minutes":16,"seconds":20,"utc":true},{"year":2020,"month":7,"date":22,"hours":6,"minutes":16,"seconds":40,"utc":true},{"year":2020,"month":7,"date":22,"hours":6,"minutes":17,"seconds":0,"utc":true},{"year":2020,"month":7,"date":22,"hours":6,"minutes":17,"seconds":20,"utc":true}]}},
            "y": {"field": "v", "type": "quantitative", "axis": {"orient": "right", "labels": false, "title": null, "values": [-4, -3, -2, -1, 0, 1, 2, 3, 4]}}
          }
        },
        {
          "data": {"values": [{"t": "2020-07-22T06:12:44Z"}]},
          "mark": {"type": "rule", "color": "#333", "strokeWidth": 1.3, "strokeDash": [6, 4]},
          "encoding": {"x": {"field": "t", "type": "temporal", "axis": null}}
        }
      ]
    },
    {
      "width": 707,
      "height": 160,
      "data": {"values": [
        {"t":"2020-07-22T06:11:40Z","v":0.0,"seg":"pre"},{"t":"2020-07-22T06:11:41Z","v":0.3,"seg":"pre"},{"t":"2020-07-22T06:11:42Z","v":0.54,"seg":"pre"},{"t":"2020-07-22T06:11:43Z","v":0.12,"seg":"pre"},
        {"t":"2020-07-22T06:11:44Z","v":-1.04,"seg":"pre"},{"t":"2020-07-22T06:11:45Z","v":-0.83,"seg":"pre"},{"t":"2020-07-22T06:11:46Z","v":-1.25,"seg":"pre"},{"t":"2020-07-22T06:11:47Z","v":-0.7,"seg":"pre"},
        {"t":"2020-07-22T06:11:48Z","v":-0.12,"seg":"pre"},{"t":"2020-07-22T06:11:49Z","v":0.12,"seg":"pre"},{"t":"2020-07-22T06:11:50Z","v":-1.87,"seg":"pre"},{"t":"2020-07-22T06:11:51Z","v":-1.37,"seg":"pre"},
        {"t":"2020-07-22T06:11:52Z","v":-1.45,"seg":"pre"},{"t":"2020-07-22T06:11:53Z","v":-0.95,"seg":"pre"},{"t":"2020-07-22T06:11:55Z","v":-1.12,"seg":"pre"},{"t":"2020-07-22T06:11:57Z","v":-1.45,"seg":"pre"},
        {"t":"2020-07-22T06:11:59Z","v":-2.5,"seg":"pre"},{"t":"2020-07-22T06:12:00Z","v":-1.37,"seg":"pre"},{"t":"2020-07-22T06:12:01Z","v":-0.29,"seg":"pre"},{"t":"2020-07-22T06:12:02Z","v":0.3,"seg":"pre"},
        {"t":"2020-07-22T06:12:03Z","v":0.83,"seg":"pre"},{"t":"2020-07-22T06:12:04Z","v":0.0,"seg":"pre"},{"t":"2020-07-22T06:12:05Z","v":-0.2,"seg":"pre"},{"t":"2020-07-22T06:12:07Z","v":-3.75,"seg":"pre"},
        {"t":"2020-07-22T06:12:08Z","v":-2.3,"seg":"pre"},{"t":"2020-07-22T06:12:09Z","v":-1.04,"seg":"pre"},{"t":"2020-07-22T06:12:11Z","v":0.0,"seg":"pre"},{"t":"2020-07-22T06:12:12Z","v":0.9,"seg":"pre"},
        {"t":"2020-07-22T06:12:13Z","v":-3.12,"seg":"pre"},{"t":"2020-07-22T06:12:14Z","v":-1.04,"seg":"pre"},{"t":"2020-07-22T06:12:15Z","v":-0.83,"seg":"pre"},{"t":"2020-07-22T06:12:16Z","v":-1.04,"seg":"pre"},
        {"t":"2020-07-22T06:12:17Z","v":-0.54,"seg":"pre"},{"t":"2020-07-22T06:12:18Z","v":-1.37,"seg":"pre"},{"t":"2020-07-22T06:12:19Z","v":-0.62,"seg":"pre"},{"t":"2020-07-22T06:12:20Z","v":-2.5,"seg":"pre"},
        {"t":"2020-07-22T06:12:21Z","v":-1.45,"seg":"pre"},{"t":"2020-07-22T06:12:22Z","v":-0.29,"seg":"pre"},
        {"t":"2020-07-22T06:12:25Z","v":-2.4,"seg":"lone"},{"t":"2020-07-22T06:12:26Z","v":-1.1,"seg":"lone"},{"t":"2020-07-22T06:12:30Z","v":-2.6,"seg":"lone"},{"t":"2020-07-22T06:12:31Z","v":-1.05,"seg":"lone"},
        {"t":"2020-07-22T06:12:38Z","v":-1.3,"seg":"lone"},{"t":"2020-07-22T06:12:42Z","v":-2.2,"seg":"lone"},{"t":"2020-07-22T06:12:56Z","v":-2.2,"seg":"lone"},
        {"t":"2020-07-22T06:13:30Z","v":0.0,"seg":"post"},{"t":"2020-07-22T06:13:31Z","v":-0.84,"seg":"post"},{"t":"2020-07-22T06:13:32Z","v":0.2,"seg":"post"},{"t":"2020-07-22T06:13:34Z","v":2.29,"seg":"post"},
        {"t":"2020-07-22T06:13:35Z","v":3.33,"seg":"post"},{"t":"2020-07-22T06:13:36Z","v":3.2,"seg":"post"},{"t":"2020-07-22T06:13:37Z","v":2.08,"seg":"post"},{"t":"2020-07-22T06:13:38Z","v":0.9,"seg":"post"},
        {"t":"2020-07-22T06:13:39Z","v":-0.2,"seg":"post"},{"t":"2020-07-22T06:13:40Z","v":0.54,"seg":"post"},{"t":"2020-07-22T06:13:41Z","v":0.7,"seg":"post"},{"t":"2020-07-22T06:13:43Z","v":0.12,"seg":"post"},
        {"t":"2020-07-22T06:13:44Z","v":1.54,"seg":"post"},{"t":"2020-07-22T06:13:45Z","v":1.12,"seg":"post"},{"t":"2020-07-22T06:13:46Z","v":1.37,"seg":"post"},{"t":"2020-07-22T06:13:47Z","v":-0.41,"seg":"post"},
        {"t":"2020-07-22T06:13:48Z","v":0.54,"seg":"post"},{"t":"2020-07-22T06:13:49Z","v":0.2,"seg":"post"},{"t":"2020-07-22T06:13:51Z","v":0.2,"seg":"post"},{"t":"2020-07-22T06:13:52Z","v":2.5,"seg":"post"},
        {"t":"2020-07-22T06:13:53Z","v":2.29,"seg":"post"},{"t":"2020-07-22T06:13:54Z","v":3.12,"seg":"post"},{"t":"2020-07-22T06:13:55Z","v":3.04,"seg":"post"},{"t":"2020-07-22T06:13:57Z","v":2.7,"seg":"post"},
        {"t":"2020-07-22T06:13:58Z","v":1.04,"seg":"post"},{"t":"2020-07-22T06:14:00Z","v":1.04,"seg":"post"},{"t":"2020-07-22T06:14:01Z","v":0.62,"seg":"post"},{"t":"2020-07-22T06:14:02Z","v":-0.29,"seg":"post"},
        {"t":"2020-07-22T06:14:03Z","v":1.66,"seg":"post"},{"t":"2020-07-22T06:14:04Z","v":2.7,"seg":"post"},{"t":"2020-07-22T06:14:06Z","v":3.87,"seg":"post"},{"t":"2020-07-22T06:14:07Z","v":3.54,"seg":"post"},
        {"t":"2020-07-22T06:14:09Z","v":2.08,"seg":"post"},{"t":"2020-07-22T06:14:10Z","v":0.0,"seg":"post"},{"t":"2020-07-22T06:14:11Z","v":-0.84,"seg":"post"},{"t":"2020-07-22T06:14:12Z","v":0.12,"seg":"post"},
        {"t":"2020-07-22T06:14:14Z","v":1.87,"seg":"post"},{"t":"2020-07-22T06:14:15Z","v":3.2,"seg":"post"},{"t":"2020-07-22T06:14:16Z","v":2.5,"seg":"post"},{"t":"2020-07-22T06:14:17Z","v":1.2,"seg":"post"},
        {"t":"2020-07-22T06:14:18Z","v":0.0,"seg":"post"},{"t":"2020-07-22T06:14:20Z","v":1.3,"seg":"post"},{"t":"2020-07-22T06:14:22Z","v":1.04,"seg":"post"},{"t":"2020-07-22T06:14:23Z","v":1.04,"seg":"post"},
        {"t":"2020-07-22T06:14:25Z","v":3.54,"seg":"post"},{"t":"2020-07-22T06:14:26Z","v":1.95,"seg":"post"},{"t":"2020-07-22T06:14:27Z","v":2.62,"seg":"post"},{"t":"2020-07-22T06:14:28Z","v":2.5,"seg":"post"},
        {"t":"2020-07-22T06:14:29Z","v":3.0,"seg":"post"},{"t":"2020-07-22T06:14:30Z","v":1.45,"seg":"post"},{"t":"2020-07-22T06:14:31Z","v":1.04,"seg":"post"},{"t":"2020-07-22T06:14:32Z","v":0.2,"seg":"post"},
        {"t":"2020-07-22T06:14:34Z","v":-1.12,"seg":"post"},{"t":"2020-07-22T06:14:35Z","v":-1.25,"seg":"post"},{"t":"2020-07-22T06:14:36Z","v":0.2,"seg":"post"},{"t":"2020-07-22T06:14:37Z","v":0.54,"seg":"post"},
        {"t":"2020-07-22T06:14:38Z","v":2.08,"seg":"post"},{"t":"2020-07-22T06:14:39Z","v":2.08,"seg":"post"},{"t":"2020-07-22T06:14:40Z","v":1.95,"seg":"post"},{"t":"2020-07-22T06:14:41Z","v":0.41,"seg":"post"},
        {"t":"2020-07-22T06:14:42Z","v":0.2,"seg":"post"},{"t":"2020-07-22T06:14:44Z","v":0.7,"seg":"post"},{"t":"2020-07-22T06:14:45Z","v":1.25,"seg":"post"},{"t":"2020-07-22T06:14:46Z","v":1.54,"seg":"post"},
        {"t":"2020-07-22T06:14:47Z","v":2.2,"seg":"post"},{"t":"2020-07-22T06:14:48Z","v":2.08,"seg":"post"},{"t":"2020-07-22T06:14:49Z","v":1.25,"seg":"post"},{"t":"2020-07-22T06:14:50Z","v":0.41,"seg":"post"},
        {"t":"2020-07-22T06:14:51Z","v":0.41,"seg":"post"},{"t":"2020-07-22T06:14:52Z","v":-1.04,"seg":"post"},{"t":"2020-07-22T06:14:53Z","v":0.54,"seg":"post"},{"t":"2020-07-22T06:14:54Z","v":-1.54,"seg":"post"},
        {"t":"2020-07-22T06:14:55Z","v":-0.84,"seg":"post"},{"t":"2020-07-22T06:14:56Z","v":0.2,"seg":"post"},{"t":"2020-07-22T06:14:58Z","v":1.25,"seg":"post"},{"t":"2020-07-22T06:14:59Z","v":1.12,"seg":"post"},
        {"t":"2020-07-22T06:15:00Z","v":1.95,"seg":"post"},{"t":"2020-07-22T06:15:01Z","v":1.66,"seg":"post"},{"t":"2020-07-22T06:15:02Z","v":2.08,"seg":"post"},{"t":"2020-07-22T06:15:03Z","v":-0.29,"seg":"post"},
        {"t":"2020-07-22T06:15:04Z","v":-0.62,"seg":"post"},{"t":"2020-07-22T06:15:05Z","v":-1.66,"seg":"post"},{"t":"2020-07-22T06:15:07Z","v":-1.37,"seg":"post"},{"t":"2020-07-22T06:15:08Z","v":-1.37,"seg":"post"},
        {"t":"2020-07-22T06:15:09Z","v":1.12,"seg":"post"},{"t":"2020-07-22T06:15:10Z","v":1.37,"seg":"post"},{"t":"2020-07-22T06:15:11Z","v":2.08,"seg":"post"},{"t":"2020-07-22T06:15:12Z","v":0.83,"seg":"post"},
        {"t":"2020-07-22T06:15:14Z","v":-1.12,"seg":"post"},{"t":"2020-07-22T06:15:15Z","v":-1.12,"seg":"post"},{"t":"2020-07-22T06:15:16Z","v":-1.37,"seg":"post"},{"t":"2020-07-22T06:15:17Z","v":-1.66,"seg":"post"},
        {"t":"2020-07-22T06:15:18Z","v":-1.66,"seg":"post"},{"t":"2020-07-22T06:15:19Z","v":-2.2,"seg":"post"},{"t":"2020-07-22T06:15:21Z","v":0.83,"seg":"post"},{"t":"2020-07-22T06:15:22Z","v":-0.29,"seg":"post"},
        {"t":"2020-07-22T06:15:23Z","v":0.62,"seg":"post"},{"t":"2020-07-22T06:15:24Z","v":0.54,"seg":"post"},{"t":"2020-07-22T06:15:25Z","v":0.83,"seg":"post"},{"t":"2020-07-22T06:15:26Z","v":-0.7,"seg":"post"},
        {"t":"2020-07-22T06:15:27Z","v":1.0,"seg":"post"},{"t":"2020-07-22T06:15:29Z","v":0.87,"seg":"post"},{"t":"2020-07-22T06:15:30Z","v":0.7,"seg":"post"},{"t":"2020-07-22T06:15:31Z","v":1.25,"seg":"post"},
        {"t":"2020-07-22T06:15:32Z","v":1.5,"seg":"post"},{"t":"2020-07-22T06:15:33Z","v":1.9,"seg":"post"},{"t":"2020-07-22T06:15:34Z","v":2.5,"seg":"post"},{"t":"2020-07-22T06:15:35Z","v":3.12,"seg":"post"},
        {"t":"2020-07-22T06:15:36Z","v":1.66,"seg":"post"},{"t":"2020-07-22T06:15:37Z","v":1.04,"seg":"post"},{"t":"2020-07-22T06:15:38Z","v":1.12,"seg":"post"},{"t":"2020-07-22T06:15:39Z","v":0.54,"seg":"post"},
        {"t":"2020-07-22T06:15:40Z","v":-0.84,"seg":"post"},{"t":"2020-07-22T06:15:41Z","v":-0.7,"seg":"post"},{"t":"2020-07-22T06:15:42Z","v":0.29,"seg":"post"},{"t":"2020-07-22T06:15:43Z","v":0.41,"seg":"post"},
        {"t":"2020-07-22T06:15:44Z","v":-0.29,"seg":"post"},{"t":"2020-07-22T06:15:45Z","v":0.0,"seg":"post"},{"t":"2020-07-22T06:15:46Z","v":0.95,"seg":"post"},{"t":"2020-07-22T06:15:47Z","v":0.41,"seg":"post"},
        {"t":"2020-07-22T06:15:49Z","v":-0.84,"seg":"post"},{"t":"2020-07-22T06:15:50Z","v":0.0,"seg":"post"},{"t":"2020-07-22T06:15:51Z","v":0.83,"seg":"post"},{"t":"2020-07-22T06:15:52Z","v":0.62,"seg":"post"},
        {"t":"2020-07-22T06:15:53Z","v":1.37,"seg":"post"},{"t":"2020-07-22T06:15:55Z","v":1.87,"seg":"post"},{"t":"2020-07-22T06:15:56Z","v":1.87,"seg":"post"},{"t":"2020-07-22T06:15:57Z","v":0.41,"seg":"post"},
        {"t":"2020-07-22T06:15:58Z","v":-0.7,"seg":"post"},{"t":"2020-07-22T06:15:59Z","v":0.83,"seg":"post"},{"t":"2020-07-22T06:16:01Z","v":-1.04,"seg":"post"},{"t":"2020-07-22T06:16:02Z","v":-0.41,"seg":"post"},
        {"t":"2020-07-22T06:16:03Z","v":1.12,"seg":"post"},{"t":"2020-07-22T06:16:04Z","v":2.7,"seg":"post"},{"t":"2020-07-22T06:16:05Z","v":4.04,"seg":"post"},{"t":"2020-07-22T06:16:07Z","v":3.12,"seg":"post"},
        {"t":"2020-07-22T06:16:08Z","v":2.08,"seg":"post"},{"t":"2020-07-22T06:16:09Z","v":-0.2,"seg":"post"},{"t":"2020-07-22T06:16:10Z","v":-0.7,"seg":"post"},{"t":"2020-07-22T06:16:11Z","v":-2.08,"seg":"post"},
        {"t":"2020-07-22T06:16:12Z","v":-2.2,"seg":"post"},{"t":"2020-07-22T06:16:13Z","v":1.66,"seg":"post"},{"t":"2020-07-22T06:16:14Z","v":-0.29,"seg":"post"},{"t":"2020-07-22T06:16:16Z","v":2.2,"seg":"post"},
        {"t":"2020-07-22T06:16:17Z","v":1.25,"seg":"post"},{"t":"2020-07-22T06:16:18Z","v":1.8,"seg":"post"},{"t":"2020-07-22T06:16:19Z","v":2.2,"seg":"post"},{"t":"2020-07-22T06:16:21Z","v":1.95,"seg":"post"},
        {"t":"2020-07-22T06:16:22Z","v":1.8,"seg":"post"},{"t":"2020-07-22T06:16:23Z","v":0.83,"seg":"post"},{"t":"2020-07-22T06:16:24Z","v":0.62,"seg":"post"},{"t":"2020-07-22T06:16:25Z","v":0.12,"seg":"post"},
        {"t":"2020-07-22T06:16:26Z","v":1.04,"seg":"post"},{"t":"2020-07-22T06:16:28Z","v":3.33,"seg":"post"},{"t":"2020-07-22T06:16:29Z","v":2.5,"seg":"post"},{"t":"2020-07-22T06:16:30Z","v":0.83,"seg":"post"},
        {"t":"2020-07-22T06:16:31Z","v":0.91,"seg":"post"},{"t":"2020-07-22T06:16:32Z","v":0.29,"seg":"post"},{"t":"2020-07-22T06:16:33Z","v":1.95,"seg":"post"},{"t":"2020-07-22T06:16:34Z","v":1.54,"seg":"post"},
        {"t":"2020-07-22T06:16:35Z","v":3.2,"seg":"post"},{"t":"2020-07-22T06:16:36Z","v":2.5,"seg":"post"},{"t":"2020-07-22T06:16:37Z","v":1.54,"seg":"post"},{"t":"2020-07-22T06:16:38Z","v":0.83,"seg":"post"},
        {"t":"2020-07-22T06:16:40Z","v":0.2,"seg":"post"},{"t":"2020-07-22T06:16:41Z","v":2.7,"seg":"post"},{"t":"2020-07-22T06:16:42Z","v":4.58,"seg":"post"},{"t":"2020-07-22T06:16:43Z","v":4.87,"seg":"post"},
        {"t":"2020-07-22T06:16:45Z","v":4.29,"seg":"post"},{"t":"2020-07-22T06:16:46Z","v":3.12,"seg":"post"},{"t":"2020-07-22T06:16:47Z","v":2.5,"seg":"post"},{"t":"2020-07-22T06:16:48Z","v":3.54,"seg":"post"},
        {"t":"2020-07-22T06:16:49Z","v":3.95,"seg":"post"},{"t":"2020-07-22T06:16:50Z","v":2.37,"seg":"post"},{"t":"2020-07-22T06:16:51Z","v":1.95,"seg":"post"},{"t":"2020-07-22T06:16:52Z","v":1.87,"seg":"post"},
        {"t":"2020-07-22T06:16:53Z","v":2.7,"seg":"post"},{"t":"2020-07-22T06:16:54Z","v":3.33,"seg":"post"},{"t":"2020-07-22T06:16:55Z","v":2.08,"seg":"post"},{"t":"2020-07-22T06:16:56Z","v":1.95,"seg":"post"},
        {"t":"2020-07-22T06:16:57Z","v":1.8,"seg":"post"},{"t":"2020-07-22T06:16:58Z","v":3.54,"seg":"post"},{"t":"2020-07-22T06:16:59Z","v":3.2,"seg":"post"},{"t":"2020-07-22T06:17:00Z","v":4.16,"seg":"post"},
        {"t":"2020-07-22T06:17:01Z","v":4.37,"seg":"post"},{"t":"2020-07-22T06:17:02Z","v":4.04,"seg":"post"},{"t":"2020-07-22T06:17:03Z","v":3.54,"seg":"post"},{"t":"2020-07-22T06:17:04Z","v":3.8,"seg":"post"},
        {"t":"2020-07-22T06:17:05Z","v":4.45,"seg":"post"},{"t":"2020-07-22T06:17:06Z","v":3.75,"seg":"post"},{"t":"2020-07-22T06:17:07Z","v":3.54,"seg":"post"},{"t":"2020-07-22T06:17:08Z","v":2.7,"seg":"post"},
        {"t":"2020-07-22T06:17:09Z","v":1.45,"seg":"post"},{"t":"2020-07-22T06:17:10Z","v":0.95,"seg":"post"},{"t":"2020-07-22T06:17:11Z","v":0.83,"seg":"post"},{"t":"2020-07-22T06:17:12Z","v":3.12,"seg":"post"},
        {"t":"2020-07-22T06:17:13Z","v":4.04,"seg":"post"},{"t":"2020-07-22T06:17:14Z","v":3.62,"seg":"post"},{"t":"2020-07-22T06:17:15Z","v":2.5,"seg":"post"},{"t":"2020-07-22T06:17:16Z","v":3.33,"seg":"post"},
        {"t":"2020-07-22T06:17:17Z","v":1.87,"seg":"post"},{"t":"2020-07-22T06:17:18Z","v":0.41,"seg":"post"},{"t":"2020-07-22T06:17:19Z","v":3.54,"seg":"post"},{"t":"2020-07-22T06:17:20Z","v":4.79,"seg":"post"},
        {"t":"2020-07-22T06:17:22Z","v":6.04,"seg":"post"},{"t":"2020-07-22T06:17:23Z","v":6.54,"seg":"post"},{"t":"2020-07-22T06:17:24Z","v":3.33,"seg":"post"},{"t":"2020-07-22T06:17:25Z","v":3.87,"seg":"post"},
        {"t":"2020-07-22T06:17:26Z","v":2.91,"seg":"post"},{"t":"2020-07-22T06:17:27Z","v":2.29,"seg":"post"},{"t":"2020-07-22T06:17:28Z","v":1.54,"seg":"post"},{"t":"2020-07-22T06:17:29Z","v":1.87,"seg":"post"},
        {"t":"2020-07-22T06:17:30Z","v":2.0,"seg":"post"}
      ]},
      "resolve": {"axis": {"x": "independent", "y": "independent"}},
      "layer": [
        {
          "transform": [{"filter": "datum.seg != 'lone'"}],
          "mark": {"type": "line", "color": "#0000ff", "strokeWidth": 2, "strokeJoin": "round"},
          "encoding": {
            "x": {"field": "t", "type": "temporal",
                  "scale": {"type": "utc", "domain": [{"year": 2020, "month": 7, "date": 22, "hours": 6, "minutes": 11, "seconds": 40, "utc": true}, {"year": 2020, "month": 7, "date": 22, "hours": 6, "minutes": 17, "seconds": 30, "utc": true}]},
                  "axis": {"orient": "bottom", "title": "2020−07−22 (UTC)",
                           "labelExpr": "utcFormat(datum.value, '%S') === '00' ? utcFormat(datum.value, '%H:%M:%S') : ''",
                           "values": [{"year":2020,"month":7,"date":22,"hours":6,"minutes":12,"seconds":0,"utc":true},{"year":2020,"month":7,"date":22,"hours":6,"minutes":12,"seconds":20,"utc":true},{"year":2020,"month":7,"date":22,"hours":6,"minutes":12,"seconds":40,"utc":true},{"year":2020,"month":7,"date":22,"hours":6,"minutes":13,"seconds":0,"utc":true},{"year":2020,"month":7,"date":22,"hours":6,"minutes":13,"seconds":20,"utc":true},{"year":2020,"month":7,"date":22,"hours":6,"minutes":13,"seconds":40,"utc":true},{"year":2020,"month":7,"date":22,"hours":6,"minutes":14,"seconds":0,"utc":true},{"year":2020,"month":7,"date":22,"hours":6,"minutes":14,"seconds":20,"utc":true},{"year":2020,"month":7,"date":22,"hours":6,"minutes":14,"seconds":40,"utc":true},{"year":2020,"month":7,"date":22,"hours":6,"minutes":15,"seconds":0,"utc":true},{"year":2020,"month":7,"date":22,"hours":6,"minutes":15,"seconds":20,"utc":true},{"year":2020,"month":7,"date":22,"hours":6,"minutes":15,"seconds":40,"utc":true},{"year":2020,"month":7,"date":22,"hours":6,"minutes":16,"seconds":0,"utc":true},{"year":2020,"month":7,"date":22,"hours":6,"minutes":16,"seconds":20,"utc":true},{"year":2020,"month":7,"date":22,"hours":6,"minutes":16,"seconds":40,"utc":true},{"year":2020,"month":7,"date":22,"hours":6,"minutes":17,"seconds":0,"utc":true},{"year":2020,"month":7,"date":22,"hours":6,"minutes":17,"seconds":20,"utc":true}]}},
            "y": {"field": "v", "type": "quantitative", "scale": {"domain": [-10, 10], "nice": false, "zero": false},
                  "axis": {"orient": "left", "title": "Up (cm)", "values": [-8, -6, -4, -2, 0, 2, 4, 6, 8], "labelExpr": "datum.value % 4 === 0 ? datum.label : ''"}},
            "detail": {"field": "seg", "type": "nominal"}
          }
        },
        {
          "transform": [{"filter": "datum.seg == 'lone'"}],
          "mark": {"type": "square", "color": "#0000ff", "size": 8, "opacity": 1},
          "encoding": {
            "x": {"field": "t", "type": "temporal",
                  "axis": {"orient": "top", "labels": false, "title": null,
                           "values": [{"year":2020,"month":7,"date":22,"hours":6,"minutes":12,"seconds":0,"utc":true},{"year":2020,"month":7,"date":22,"hours":6,"minutes":12,"seconds":20,"utc":true},{"year":2020,"month":7,"date":22,"hours":6,"minutes":12,"seconds":40,"utc":true},{"year":2020,"month":7,"date":22,"hours":6,"minutes":13,"seconds":0,"utc":true},{"year":2020,"month":7,"date":22,"hours":6,"minutes":13,"seconds":20,"utc":true},{"year":2020,"month":7,"date":22,"hours":6,"minutes":13,"seconds":40,"utc":true},{"year":2020,"month":7,"date":22,"hours":6,"minutes":14,"seconds":0,"utc":true},{"year":2020,"month":7,"date":22,"hours":6,"minutes":14,"seconds":20,"utc":true},{"year":2020,"month":7,"date":22,"hours":6,"minutes":14,"seconds":40,"utc":true},{"year":2020,"month":7,"date":22,"hours":6,"minutes":15,"seconds":0,"utc":true},{"year":2020,"month":7,"date":22,"hours":6,"minutes":15,"seconds":20,"utc":true},{"year":2020,"month":7,"date":22,"hours":6,"minutes":15,"seconds":40,"utc":true},{"year":2020,"month":7,"date":22,"hours":6,"minutes":16,"seconds":0,"utc":true},{"year":2020,"month":7,"date":22,"hours":6,"minutes":16,"seconds":20,"utc":true},{"year":2020,"month":7,"date":22,"hours":6,"minutes":16,"seconds":40,"utc":true},{"year":2020,"month":7,"date":22,"hours":6,"minutes":17,"seconds":0,"utc":true},{"year":2020,"month":7,"date":22,"hours":6,"minutes":17,"seconds":20,"utc":true}]}},
            "y": {"field": "v", "type": "quantitative", "axis": {"orient": "right", "labels": false, "title": null, "values": [-8, -6, -4, -2, 0, 2, 4, 6, 8]}}
          }
        },
        {
          "data": {"values": [{"t": "2020-07-22T06:12:44Z", "label": "2020−07−22 06:12:44 (UTC) Alaska M7.8 (USGS)"}]},
          "layer": [
            {
              "mark": {"type": "rule", "color": "#333", "strokeWidth": 1.3, "strokeDash": [6, 4]},
              "encoding": {"x": {"field": "t", "type": "temporal", "axis": null}}
            },
            {
              "mark": {"type": "text", "align": "left", "baseline": "alphabetic", "dx": 9, "font": "Liberation Sans", "fontSize": 19.2, "color": "#111"},
              "encoding": {
                "x": {"field": "t", "type": "temporal", "axis": null},
                "y": {"datum": -9.05, "type": "quantitative", "axis": null},
                "text": {"field": "label", "type": "nominal"}
              }
            },
            {
              "mark": {"type": "point", "shape": "M -1 -1 A 2 2 0 0 1 1 1", "size": 2304, "filled": false, "color": "#222", "strokeWidth": 1.3, "opacity": 1},
              "encoding": {
                "x": {"datum": {"year": 2020, "month": 7, "date": 22, "hours": 6, "minutes": 12, "seconds": 56, "utc": true}, "type": "temporal", "axis": null},
                "y": {"datum": -3.5, "type": "quantitative", "axis": null}
              }
            },
            {
              "mark": {"type": "point", "shape": "triangle-down", "size": 50, "filled": true, "color": "#222", "opacity": 1},
              "encoding": {
                "x": {"datum": {"year": 2020, "month": 7, "date": 22, "hours": 6, "minutes": 13, "seconds": 8, "utc": true}, "type": "temporal", "axis": null},
                "y": {"datum": -6.0, "type": "quantitative", "axis": null}
              }
            }
          ]
        }
      ]
    }
  ],
  "config": {
    "font": "Liberation Sans",
    "view": {"stroke": "#555", "strokeWidth": 2},
    "axis": {
      "domain": false, "grid": false, "ticks": true,
      "tickSize": -5, "tickColor": "#333", "tickWidth": 1,
      "labelPadding": 10, "labelFont": "Liberation Sans", "labelColor": "#111",
      "labelFlush": false, "labelOverlap": false,
      "titleFont": "Liberation Sans", "titleColor": "#111", "titleFontWeight": "normal"
    },
    "axisX": {"labelFontSize": 18, "titleFontSize": 19, "titlePadding": 4},
    "axisY": {"labelFontSize": 16, "titleFontSize": 18.5, "titlePadding": 14}
  }
}
